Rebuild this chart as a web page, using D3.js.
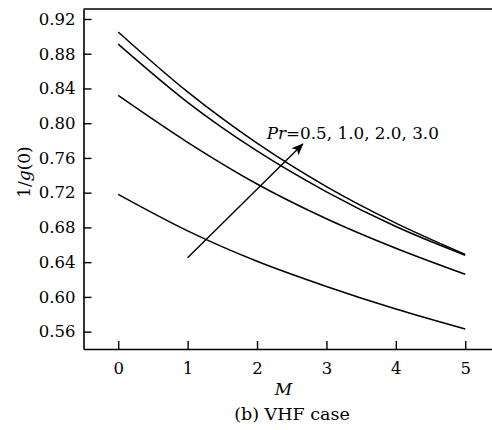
<!DOCTYPE html>
<html>
<head>
<meta charset="utf-8">
<script src="https://cdn.jsdelivr.net/npm/d3@7"></script>
<style>
  html, body { margin: 0; padding: 0; background: #fff; }
  svg text { font-family: "DejaVu Serif", "Liberation Serif", serif; fill: #000; }
</style>
</head>
<body>
<svg id="chart" width="492" height="430"></svg>
<script>
// Magnetic parameter M
const mValues = [0, 1, 2, 3, 4, 5];
// 1/g(0) for each Prandtl number
const prandtl = ["0.5", "1.0", "2.0", "3.0"];
const pr05 = [0.718, 0.676, 0.641, 0.612, 0.586, 0.563];
const pr10 = [0.832, 0.778, 0.730, 0.690, 0.656, 0.626];
const pr20 = [0.891, 0.824, 0.768, 0.721, 0.681, 0.648];
const pr30 = [0.905, 0.836, 0.777, 0.727, 0.685, 0.649];
const xTicks = [0, 1, 2, 3, 4, 5];
const yTicks = [0.56, 0.60, 0.64, 0.68, 0.72, 0.76, 0.80, 0.84, 0.88, 0.92];

const seriesList = [pr05, pr10, pr20, pr30];

(function () {
  const svg = d3.select("#chart");
  const plotLeft = 83.5, plotRight = 493, plotTop = 9, plotBottom = 349;

  const x = d3.scaleLinear().domain([-0.5, 5.4]).range([plotLeft, plotRight]);
  const y = d3.scaleLinear().domain([0.54, 0.9315]).range([plotBottom, plotTop]);

  const ink = "#000";

  // Frame: top border
  svg.append("line")
    .attr("x1", plotLeft).attr("x2", 492).attr("y1", plotTop).attr("y2", plotTop)
    .attr("stroke", ink).attr("stroke-width", 1.6);

  // Bottom axis with inward ticks
  const gx = svg.append("g").attr("transform", `translate(0,${plotBottom})`)
    .call(d3.axisBottom(x).tickValues(xTicks).tickSizeInner(-8).tickSizeOuter(0).tickPadding(16)
      .tickFormat(d3.format("d")));
  gx.select(".domain").attr("stroke", ink).attr("stroke-width", 1.6);
  gx.selectAll(".tick line").attr("stroke", ink).attr("stroke-width", 1.4);
  gx.selectAll(".tick text").attr("font-size", 16.5).attr("fill", ink)
    .attr("dy", null).attr("y", 25);

  // Left axis with inward ticks
  const gy = svg.append("g").attr("transform", `translate(${plotLeft},0)`)
    .call(d3.axisLeft(y).tickValues(yTicks).tickSizeInner(-8).tickSizeOuter(0).tickPadding(8)
      .tickFormat(d3.format(".2f")));
  gy.select(".domain").attr("stroke", ink).attr("stroke-width", 1.6);
  gy.selectAll(".tick line").attr("stroke", ink).attr("stroke-width", 1.4);
  gy.selectAll(".tick text").attr("font-size", 16.5).attr("fill", ink).attr("x", -8);

  // Curves
  const line = d3.line()
    .x((d, i) => x(mValues[i]))
    .y(d => y(d))
    .curve(d3.curveMonotoneX);

  svg.append("g").selectAll("path")
    .data(seriesList)
    .join("path")
    .attr("d", line)
    .attr("fill", "none")
    .attr("stroke", ink)
    .attr("stroke-width", 1.5);

  // Arrow showing increasing Pr
  const defs = svg.append("defs");
  defs.append("marker")
    .attr("id", "head")
    .attr("viewBox", "0 0 12 10")
    .attr("refX", 11).attr("refY", 5)
    .attr("markerWidth", 13).attr("markerHeight", 10)
    .attr("markerUnits", "userSpaceOnUse")
    .attr("orient", "auto")
    .append("path")
    .attr("d", "M0,0 L12,5 L0,10 L3,5 Z")
    .attr("fill", ink);

  const arrowFrom = [1.0, 0.645], arrowTo = [2.66, 0.776];
  svg.append("line")
    .attr("x1", x(arrowFrom[0])).attr("y1", y(arrowFrom[1]))
    .attr("x2", x(arrowTo[0])).attr("y2", y(arrowTo[1]))
    .attr("stroke", ink).attr("stroke-width", 1.4)
    .attr("marker-end", "url(#head)");

  const label = svg.append("text")
    .attr("x", x(2.14)).attr("y", y(0.782))
    .attr("font-size", 16.8);
  label.append("tspan").attr("font-style", "italic").text("Pr");
  label.append("tspan").text("=" + prandtl.join(", "));

  // Axis titles
  const yTitle = svg.append("text")
    .attr("transform", "translate(30,172) rotate(-90)")
    .attr("text-anchor", "middle")
    .attr("font-size", 17);
  yTitle.append("tspan").text("1/");
  yTitle.append("tspan").attr("font-style", "italic").text("g");
  yTitle.append("tspan").text("(0)");

  svg.append("text")
    .attr("x", 283.5).attr("y", 395)
    .attr("text-anchor", "middle")
    .attr("font-size", 17)
    .attr("font-style", "italic")
    .text("M");

  svg.append("text")
    .attr("x", 292).attr("y", 420)
    .attr("text-anchor", "middle")
    .attr("font-size", 17.5)
    .text("(b) VHF case");
})();
</script>
</body>
</html>
